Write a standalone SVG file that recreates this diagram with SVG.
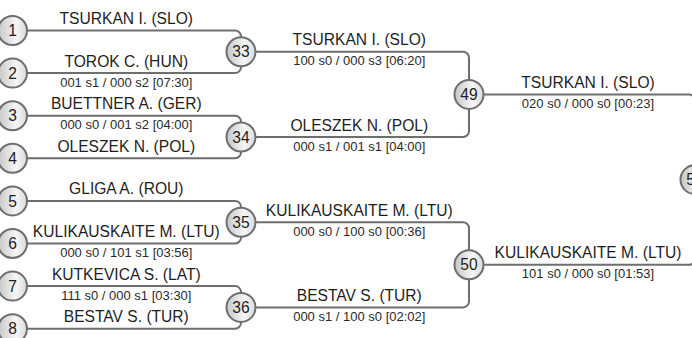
<svg xmlns="http://www.w3.org/2000/svg" width="692" height="338" viewBox="0 0 692 338">
<defs>
<linearGradient id="gfill" x1="0" y1="0" x2="1" y2="0">
<stop offset="0" stop-color="#c6c6c6"/>
<stop offset="0.62" stop-color="#f6f6f6"/>
<stop offset="1" stop-color="#dadada"/>
</linearGradient>
<style>
.ln{fill:none;stroke:#6e6e6e;stroke-width:2}
.nd circle{fill:url(#gfill);stroke:#6e6e6e;stroke-width:2}
.nd text{font-family:"Liberation Sans",Arial,sans-serif;font-size:15.6px;fill:#1e1e1e;text-anchor:middle}
.nm{font-family:"Liberation Sans",Arial,sans-serif;font-size:15.6px;fill:#1e1e1e;text-anchor:middle}
.sc{font-family:"Liberation Sans",Arial,sans-serif;font-size:13px;fill:#2a2a2a;text-anchor:middle}
</style>
</defs>
<rect width="692" height="338" fill="#ffffff"/>
<g id="connectors">
<path class="ln" d="M12 30.5 H235 A6 6 0 0 1 241 36.5 V67.1 A6 6 0 0 1 235 73.1 H12"/>
<path class="ln" d="M12 115.7 H235 A6 6 0 0 1 241 121.7 V152.3 A6 6 0 0 1 235 158.3 H12"/>
<path class="ln" d="M12 200.9 H235 A6 6 0 0 1 241 206.9 V237.5 A6 6 0 0 1 235 243.5 H12"/>
<path class="ln" d="M12 286.1 H235 A6 6 0 0 1 241 292.1 V322.7 A6 6 0 0 1 235 328.7 H12"/>
<path class="ln" d="M241 51.8 H463 A6 6 0 0 1 469 57.8 V131 A6 6 0 0 1 463 137 H241"/>
<path class="ln" d="M241 222.2 H463 A6 6 0 0 1 469 228.2 V301.4 A6 6 0 0 1 463 307.4 H241"/>
<path class="ln" d="M469 94.4 H689 A6 6 0 0 1 695 100.4 V258.8 A6 6 0 0 1 689 264.8 H469"/>
</g>
<g id="labels">
<text class="nm" x="126.3" y="24">TSURKAN I. (SLO)</text>
<text class="nm" x="126.3" y="66.6">TOROK C. (HUN)</text>
<text class="sc" x="126.3" y="86.6">001 s1 / 000 s2 [07:30]</text>
<text class="nm" x="126.3" y="109.2">BUETTNER A. (GER)</text>
<text class="sc" x="126.3" y="129.2">000 s0 / 001 s2 [04:00]</text>
<text class="nm" x="126.3" y="151.8">OLESZEK N. (POL)</text>
<text class="nm" x="126.3" y="194.4">GLIGA A. (ROU)</text>
<text class="nm" x="126.3" y="237">KULIKAUSKAITE M. (LTU)</text>
<text class="sc" x="126.3" y="257">000 s0 / 101 s1 [03:56]</text>
<text class="nm" x="126.3" y="279.6">KUTKEVICA S. (LAT)</text>
<text class="sc" x="126.3" y="299.6">111 s0 / 000 s1 [03:30]</text>
<text class="nm" x="126.3" y="322.2">BESTAV S. (TUR)</text>
<text class="nm" x="359.3" y="45.3">TSURKAN I. (SLO)</text>
<text class="sc" x="359.3" y="65.3">100 s0 / 000 s3 [06:20]</text>
<text class="nm" x="359.3" y="130.5">OLESZEK N. (POL)</text>
<text class="sc" x="359.3" y="150.5">000 s1 / 001 s1 [04:00]</text>
<text class="nm" x="359.3" y="215.7">KULIKAUSKAITE M. (LTU)</text>
<text class="sc" x="359.3" y="235.7">000 s0 / 100 s0 [00:36]</text>
<text class="nm" x="359.3" y="300.9">BESTAV S. (TUR)</text>
<text class="sc" x="359.3" y="320.9">000 s1 / 100 s0 [02:02]</text>
<text class="nm" x="588" y="87.9">TSURKAN I. (SLO)</text>
<text class="sc" x="588" y="107.9">020 s0 / 000 s0 [00:23]</text>
<text class="nm" x="588" y="258.3">KULIKAUSKAITE M. (LTU)</text>
<text class="sc" x="588" y="278.3">101 s0 / 000 s0 [01:53]</text>
</g>
<g id="node-1" class="nd"><circle cx="12.5" cy="30.5" r="14.5"/><text x="12.5" y="36.1">1</text></g>
<g id="node-2" class="nd"><circle cx="12.5" cy="73.1" r="14.5"/><text x="12.5" y="78.7">2</text></g>
<g id="node-3" class="nd"><circle cx="12.5" cy="115.7" r="14.5"/><text x="12.5" y="121.3">3</text></g>
<g id="node-4" class="nd"><circle cx="12.5" cy="158.3" r="14.5"/><text x="12.5" y="163.9">4</text></g>
<g id="node-5" class="nd"><circle cx="12.5" cy="200.9" r="14.5"/><text x="12.5" y="206.5">5</text></g>
<g id="node-6" class="nd"><circle cx="12.5" cy="243.5" r="14.5"/><text x="12.5" y="249.1">6</text></g>
<g id="node-7" class="nd"><circle cx="12.5" cy="286.1" r="14.5"/><text x="12.5" y="291.7">7</text></g>
<g id="node-8" class="nd"><circle cx="12.5" cy="328.7" r="14.5"/><text x="12.5" y="334.3">8</text></g>
<g id="node-33" class="nd"><circle cx="241" cy="51.8" r="14.5"/><text x="241" y="57.4">33</text></g>
<g id="node-34" class="nd"><circle cx="241" cy="137" r="14.5"/><text x="241" y="142.6">34</text></g>
<g id="node-35" class="nd"><circle cx="241" cy="222.2" r="14.5"/><text x="241" y="227.8">35</text></g>
<g id="node-36" class="nd"><circle cx="241" cy="307.4" r="14.5"/><text x="241" y="313">36</text></g>
<g id="node-49" class="nd"><circle cx="469" cy="94.4" r="14.5"/><text x="469" y="100">49</text></g>
<g id="node-50" class="nd"><circle cx="469" cy="264.8" r="14.5"/><text x="469" y="270.4">50</text></g>
<g id="node-57" class="nd"><circle cx="695" cy="179.6" r="14.5"/><text x="695" y="185.2">57</text></g>
</svg>
